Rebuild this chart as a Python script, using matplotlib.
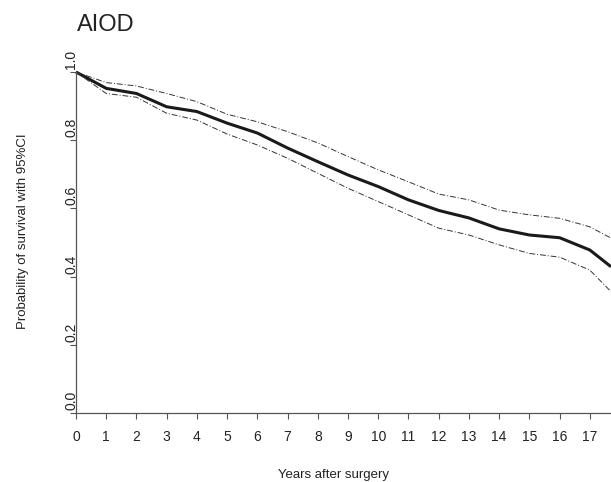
import matplotlib
matplotlib.use('Agg')
import matplotlib.pyplot as plt
import matplotlib.transforms as mtransforms

plt.rcParams['font.family'] = ['Liberation Sans', 'DejaVu Sans']

# Kaplan-Meier estimate with 95% CI
years = [0, 1, 2, 3, 4, 5, 6, 7, 8, 9, 10, 11, 12, 13, 14, 15, 16, 17, 17.7]
surv = [1.0, 0.952, 0.937, 0.898, 0.884, 0.850, 0.821, 0.777, 0.737, 0.698,
        0.664, 0.625, 0.594, 0.572, 0.540, 0.522, 0.514, 0.478, 0.429]
upper = [1.0, 0.969, 0.959, 0.937, 0.913, 0.876, 0.854, 0.825, 0.792, 0.752,
         0.713, 0.678, 0.642, 0.625, 0.595, 0.581, 0.571, 0.546, 0.513]
lower = [1.0, 0.937, 0.926, 0.879, 0.859, 0.818, 0.786, 0.747, 0.703, 0.659,
         0.620, 0.581, 0.542, 0.522, 0.493, 0.468, 0.457, 0.419, 0.356]

xticks = list(range(0, 18))
yticks = [0.0, 0.2, 0.4, 0.6, 0.8, 1.0]

fig = plt.figure(figsize=(6.11, 4.82), dpi=100)
ax = fig.add_axes([76 / 611, 1 - 413 / 482, 1 - 76 / 611, (413 - 72) / 482])

ax.plot(years, surv, color='#1a1a1a', lw=2.2, clip_on=False, solid_capstyle='butt')
ax.plot(years, upper, color='#333333', lw=0.7, ls=(0, (6, 2, 1, 2)), clip_on=False)
ax.plot(years, lower, color='#333333', lw=0.7, ls=(0, (6, 2, 1, 2)), clip_on=False)

ax.set_xlim(0, 17.7)
ax.set_ylim(0, 1.0)

for side in ['top', 'right']:
    ax.spines[side].set_visible(False)
for side in ['left', 'bottom']:
    ax.spines[side].set_color('#555555')
    ax.spines[side].set_linewidth(0.9)

ax.set_xticks(xticks)
ax.set_xticklabels([str(t) for t in xticks])
ax.set_yticks(yticks)
ax.set_yticklabels([f'{t:.1f}' for t in yticks], rotation=90, va='bottom')
ax.tick_params(axis='x', direction='out', length=4, width=0.8, color='#555555',
               pad=8, labelsize=10, labelcolor='#222222')
ax.tick_params(axis='y', direction='out', length=4, width=0.8, color='#555555',
               pad=-5.5, labelsize=10, labelcolor='#222222')

# labels sit a little above their tick
shift = mtransforms.ScaledTranslation(0, 3 / 100, fig.dpi_scale_trans)
for lab in ax.get_yticklabels():
    lab.set_transform(lab.get_transform() + shift)

fig.text(77 / 611, 1 - 25 / 482, 'AIOD', fontsize=17, ha='left', va='center',
         color='#222222')
fig.text(23 / 611, 1 - 231 / 482, 'Probability of survival with 95%CI',
         rotation=90, fontsize=9.5, ha='center', va='center', color='#222222')
fig.text(333 / 611, 1 - 475 / 482, 'Years after surgery', fontsize=9.5,
         ha='center', va='center', color='#222222')

fig.savefig('out.png', dpi=100)
